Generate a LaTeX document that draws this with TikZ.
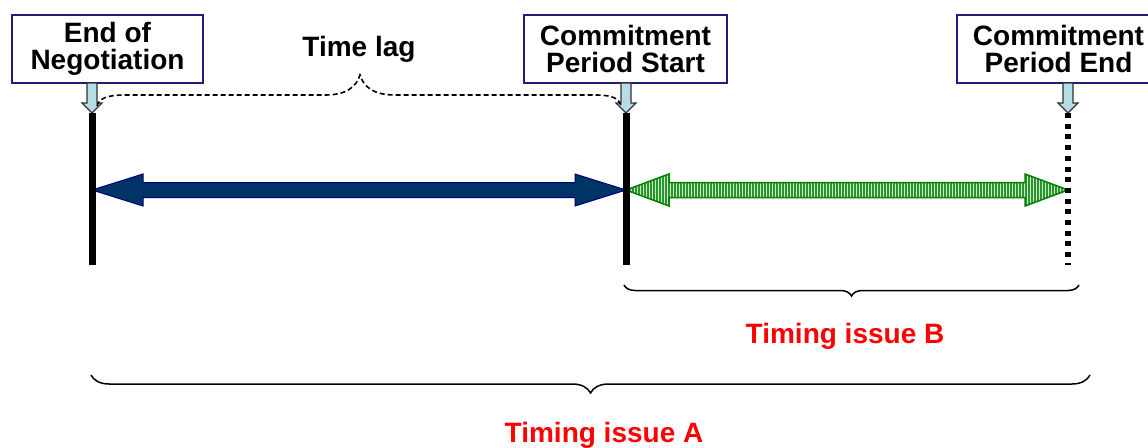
\documentclass[tikz,border=0pt]{standalone}
\usepackage{fontspec}
\setmainfont{Liberation Sans}
\usetikzlibrary{decorations.pathreplacing,patterns.meta}
\definecolor{boxline}{RGB}{30,30,125}
\definecolor{navy}{RGB}{0,51,102}
\definecolor{navyline}{RGB}{0,0,128}
\definecolor{gline}{RGB}{0,128,0}
\definecolor{gfill}{RGB}{205,232,205}
\definecolor{gstripe}{RGB}{40,150,40}
\definecolor{lblue}{RGB}{182,221,228}
\definecolor{tred}{RGB}{255,0,0}
\tikzset{
  bigfont/.style={font=\fontsize{28}{27}\selectfont\bfseries},
  labelbox/.style={draw=boxline, line width=1.5pt, fill=white, bigfont, align=center,
    minimum height=68pt, inner sep=0pt},
  timeline/.style={line width=7pt, black},
  dotline/.style={line width=6pt, black, dash pattern=on 5pt off 5.7pt},
  downarr/.pic={\draw[fill=lblue, draw=black!80, line width=1.2pt]
    (0,0) -- (-10,-10) -- (-5,-10) -- (-5,-30) -- (5,-30) -- (5,-10) -- (10,-10) -- cycle;},
  bracestyle/.style={draw=black, line width=1.5pt, decorate},
  lagstyle/.style={draw=black, line width=1.6pt, dash pattern=on 5pt off 3pt},
  redtext/.style={bigfont, text=tred, anchor=base},
}
\begin{document}
\begin{tikzpicture}[x=1pt,y=-1pt]
\clip (0,0) rectangle (1148,447);
\fill[white] (0,0) rectangle (1148,447);

% label boxes
\node[labelbox, minimum width=191pt] (n1) at (107.5,49) {End of\\Negotiation};
\node[labelbox, minimum width=203pt] (n2) at (625.5,49) {Commitment\\Period Start};
\node[labelbox, minimum width=203pt] (n3) at (1058.5,49) {Commitment\\Period End};

% tips and bottoms of the time lines
\coordinate (t1) at (92,113);
\coordinate (t2) at (626,113);
\coordinate (t3) at (1068,113);
\coordinate (b1) at (92,265);
\coordinate (b2) at (626,265);
\coordinate (b3) at (1068,265);

% small down arrows
\pic at (t1) {downarr};
\pic at (t2) {downarr};
\pic at (t3) {downarr};

% time lag dashed brace
\draw[lagstyle] (97,106) .. controls (99,98) and (108,95) .. (125,95) -- (325,95)
  .. controls (345,95) and (356,88) .. (360,75)
  .. controls (364,88) and (375,95) .. (395,95) -- (595,95)
  .. controls (612,95) and (619,98) .. (621,106);
\node[bigfont, anchor=base] (lag) at (359,56) {Time lag};

% blue double arrow
\draw[fill=navy, draw=navyline, line width=1pt, line join=miter]
  (92,190) -- (143,174) -- (143,182.5) -- (575,182.5) -- (575,174) -- (626,190)
  -- (575,206) -- (575,197.5) -- (143,197.5) -- (143,206) -- cycle;

% green striped double arrow
\path[fill=gfill] (626,190) -- (669,174) -- (669,182.5) -- (1025,182.5) -- (1025,174) -- (1068,190)
  -- (1025,206) -- (1025,197.5) -- (669,197.5) -- (669,206) -- cycle;
\draw[pattern={Lines[angle=90,distance=3pt,line width=1.3pt]}, pattern color=gstripe,
  draw=gline, line width=1.5pt, line join=miter]
  (626,190) -- (669,174) -- (669,182.5) -- (1025,182.5) -- (1025,174) -- (1068,190)
  -- (1025,206) -- (1025,197.5) -- (669,197.5) -- (669,206) -- cycle;

% time lines
\draw[timeline] (t1) -- (b1);
\draw[timeline] (t2) -- (b2);
\draw[dotline] (t3) -- (b3);

% braces
\coordinate (bbL) at (624,285);
\coordinate (bbR) at (1079,285);
\draw[bracestyle, decoration={brace, mirror, amplitude=11pt}] (bbL) -- (bbR);
\node[redtext] (tb) at (845,343) {Timing issue B};

\coordinate (baL) at (91,375);
\coordinate (baR) at (1090,375);
\draw[bracestyle, decoration={brace, mirror, amplitude=18pt}] (baL) -- (baR);
\node[redtext] (ta) at (604,442) {Timing issue A};
\end{tikzpicture}
\end{document}
